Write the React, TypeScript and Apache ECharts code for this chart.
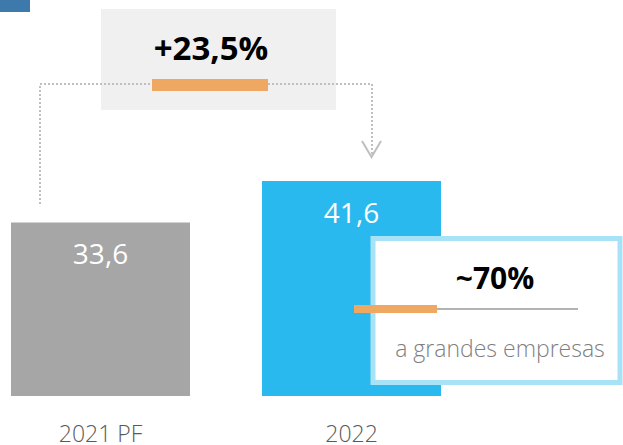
import React, { useEffect, useRef } from "react";
import * as echarts from "echarts";

const categories = ["2021 PF", "2022"];
const values = [33.6, 41.6];
const barColors = ["#a6a6a6", "#29b9ee"];
const growthLabel = "+23,5%";
const shareLabel = "~70%";
const shareCaption = "a grandes empresas";

const fmt = (v: number) => v.toFixed(1).replace(".", ",");

const SHIFT = 25;

export default function App() {
  const ref = useRef<HTMLDivElement>(null);
  useEffect(() => {
    if (!ref.current) return;
    const chart = echarts.init(ref.current, null, { renderer: "svg" });
    const font = "'Open Sans', 'Noto Sans', sans-serif";
    const dotted = { stroke: "#bfbfbf", lineWidth: 2, lineDash: [2, 2], fill: null };
    chart.setOption({
      animation: false,
      grid: { left: 0, width: 502, top: 86, bottom: 49 },
      xAxis: {
        type: "category",
        data: categories,
        axisLine: { show: false },
        axisTick: { show: false },
        axisLabel: { margin: 25, fontSize: 23, color: "#595959", fontFamily: font, fontWeight: 300 },
      },
      yAxis: { type: "value", min: 0, max: 60, show: false, splitLine: { show: false } },
      series: [
        {
          type: "bar",
          barWidth: 179,
          data: values.map((v, i) => ({ value: v, itemStyle: { color: barColors[i] } })),
          label: {
            show: true,
            position: "insideTop",
            distance: 17,
            color: "#ffffff",
            fontSize: 28,
            fontFamily: font,
            formatter: (p: any) => fmt(p.value),
          },
          z: 2,
        },
      ],
      graphic: [
        {
          type: "group",
          x: SHIFT,
          y: 0,
          children: [
            { type: "rect", shape: { x: 0, y: 0, width: 30, height: 12 }, style: { fill: "#3d7aab" } },
            { type: "rect", shape: { x: 101, y: 9, width: 235, height: 101 }, style: { fill: "#f0f0f0" } },
            { type: "polyline", shape: { points: [[40, 204], [40, 84], [372, 84], [372, 156]] }, style: dotted, z: 5 },
            { type: "polyline", shape: { points: [[362, 141], [371.5, 157], [381, 141]] }, style: { stroke: "#bfbfbf", lineWidth: 2, fill: null }, z: 5 },
            { type: "rect", shape: { x: 152, y: 79, width: 116, height: 12 }, style: { fill: "#eea862" }, z: 6 },
            {
              type: "text",
              x: 211,
              y: 47,
              style: { text: growthLabel, fontSize: 33, fontWeight: "bold", fill: "#000000", fontFamily: font, align: "center", verticalAlign: "middle" },
              z: 6,
            },
            {
              type: "rect",
              shape: { x: 373, y: 238.5, width: 247, height: 144 },
              style: { fill: "#ffffff", stroke: "#a8e2f7", lineWidth: 5 },
              z: 10,
            },
            {
              type: "text",
              x: 495,
              y: 277,
              style: { text: shareLabel, fontSize: 30, fontWeight: "bold", fill: "#000000", fontFamily: font, align: "center", verticalAlign: "middle" },
              z: 11,
            },
            { type: "line", shape: { x1: 437, y1: 309, x2: 578, y2: 309 }, style: { stroke: "#b3b3b3", lineWidth: 2 }, z: 11 },
            { type: "rect", shape: { x: 354, y: 305, width: 83, height: 8 }, style: { fill: "#eea862" }, z: 12 },
            {
              type: "text",
              x: 500,
              y: 348,
              style: { text: shareCaption, fontSize: 23, fontWeight: 300, fill: "#7f7f7f", fontFamily: font, align: "center", verticalAlign: "middle" },
              z: 11,
            },
          ],
        },
      ],
    });
    return () => chart.dispose();
  }, []);
  return (
    <div
      ref={ref}
      style={{ position: "fixed", left: -SHIFT, top: 0, width: 623 + SHIFT, height: 445, background: "#ffffff" }}
    />
  );
}
